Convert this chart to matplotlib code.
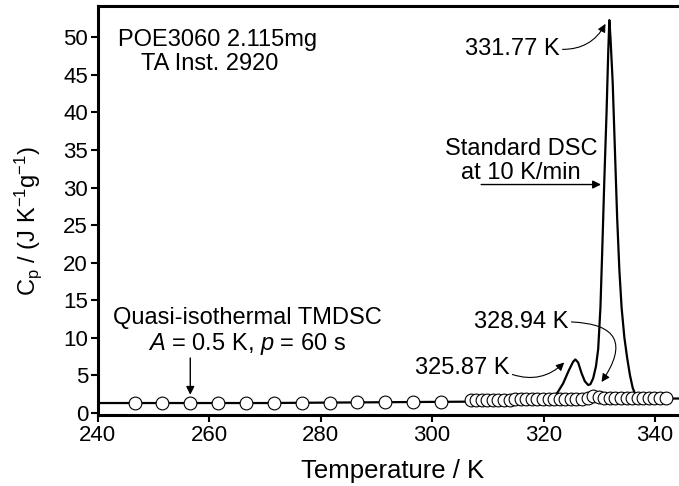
import matplotlib
matplotlib.use("Agg")
import matplotlib.pyplot as plt

plt.rcParams['font.family'] = ['Liberation Sans', 'DejaVu Sans']
plt.rcParams['mathtext.fontset'] = 'custom'
plt.rcParams['mathtext.rm'] = 'Liberation Sans'
plt.rcParams['mathtext.it'] = 'Liberation Sans:italic'

# Standard DSC at 10 K/min
dsc_T = [240, 270, 300, 310, 320, 321.5, 322.5, 323.5, 324.5, 325.3, 325.7, 326.2,
         326.8, 327.4, 328.0, 328.4, 328.9, 329.4, 329.8, 330.2, 330.5, 330.9,
         331.3, 331.6, 331.8, 332.0, 332.4, 332.8, 333.2, 333.6, 334.0, 334.5,
         335.0, 335.5, 336.0, 336.6, 337.5, 345.0]
dsc_cp = [1.3, 1.3, 1.45, 1.5, 1.6, 1.9, 2.7, 3.9, 5.6, 6.8, 7.1, 6.7,
          5.3, 4.2, 3.7, 3.8, 4.6, 6.2, 8.5, 14.0, 21.0, 31.0,
          40.0, 48.0, 52.3, 50.0, 44.0, 35.0, 26.0, 19.0, 14.0, 10.0,
          7.3, 5.0, 3.3, 2.2, 1.9, 1.9]

# Quasi-isothermal TMDSC points
tm_T = [246.6, 251.6, 256.6, 261.6, 266.6, 271.6, 276.6, 281.6, 286.6, 291.6,
        296.6, 301.6,
        306.9, 307.9, 308.9, 309.9, 310.9, 311.9, 312.9, 313.9, 314.9, 315.9,
        316.9, 317.9, 318.9, 319.9, 320.9, 321.9, 322.9, 323.9, 324.9, 325.9,
        326.9, 327.9, 328.9, 329.9, 330.9, 331.9, 332.9, 333.9, 334.9, 335.9,
        336.9, 337.9, 338.9, 339.9, 340.9, 341.9]
tm_cp = [1.3, 1.3, 1.3, 1.3, 1.3, 1.35, 1.35, 1.35, 1.4, 1.4,
         1.45, 1.5,
         1.65, 1.65, 1.7, 1.7, 1.7, 1.75, 1.75, 1.75, 1.8, 1.8,
         1.8, 1.8, 1.8, 1.85, 1.85, 1.85, 1.85, 1.85, 1.85, 1.9,
         1.9, 2.0, 2.3, 2.1, 2.0, 1.95, 1.95, 1.95, 1.95, 1.95,
         1.95, 1.95, 1.95, 1.95, 1.95, 1.95]

xticks = [240, 260, 280, 300, 320, 340]
yticks = [0, 5, 10, 15, 20, 25, 30, 35, 40, 45, 50]

fig = plt.figure(figsize=(6.79, 4.86), dpi=100)
ax = fig.add_axes([0.144, 0.146, 0.856, 0.842])

ax.plot(dsc_T, dsc_cp, color='black', lw=1.6, zorder=2)
ax.plot(tm_T, tm_cp, linestyle='none', marker='o', markersize=9.2,
        markerfacecolor='white', markeredgecolor='black', markeredgewidth=0.8, zorder=3)

ax.set_xlim(240, 344.3)
ax.set_ylim(-0.3, 54.2)
ax.set_xticks(xticks)
ax.set_yticks(yticks)
ax.tick_params(direction='out', length=5, width=1.5, labelsize=16, pad=2)
for s in ['left', 'bottom', 'top']:
    ax.spines[s].set_linewidth(2.2)
ax.spines['right'].set_visible(False)

ax.set_xlabel('Temperature / K', fontsize=18.5)
ax.xaxis.set_label_coords(0.508, -0.107)
ax.set_ylabel(r'C$_\mathrm{p}$ / (J K$^\mathrm{-1}$g$^\mathrm{-1}$)', fontsize=17)
ax.yaxis.set_label_coords(-0.092, 0.475)

fs = 17
arrow_kw = dict(color='black', lw=0.8, mutation_scale=12, shrinkA=0, shrinkB=0)

ax.text(261.5, 49.7, 'POE3060 2.115mg', fontsize=fs, ha='center', va='center')
ax.text(260.0, 46.4, 'TA Inst. 2920', fontsize=fs, ha='center', va='center')

ax.text(316.0, 33.5, 'Standard DSC\nat 10 K/min', fontsize=fs, ha='center', va='center',
        linespacing=1.12)
ax.annotate('', xy=(330.3, 30.4), xytext=(308.8, 30.4),
            arrowprops=dict(arrowstyle='-|>', **dict(arrow_kw, lw=1.0)))

ax.text(322.9, 48.4, '331.77 K', fontsize=fs, ha='right', va='center')
ax.annotate('', xy=(331.1, 51.8), xytext=(323.4, 48.4),
            arrowprops=dict(arrowstyle='-|>', connectionstyle='arc3,rad=0.3', **arrow_kw))

ax.text(324.5, 12.1, '328.94 K', fontsize=fs, ha='right', va='center')
ax.annotate('', xy=(330.4, 4.1), xytext=(325.0, 12.1),
            arrowprops=dict(arrowstyle='-|>', connectionstyle='arc3,rad=-0.9', **arrow_kw))

ax.text(313.8, 5.9, '325.87 K', fontsize=fs, ha='right', va='center')
ax.annotate('', xy=(323.7, 6.7), xytext=(314.4, 5.1),
            arrowprops=dict(arrowstyle='-|>', connectionstyle='arc3,rad=0.3', **arrow_kw))

ax.text(266.8, 10.8, 'Quasi-isothermal TMDSC\n' + r'$A$ = 0.5 K, $p$ = 60 s',
        fontsize=fs, ha='center', va='center', linespacing=1.1)
ax.annotate('', xy=(256.6, 2.4), xytext=(256.6, 7.3),
            arrowprops=dict(arrowstyle='-|>', **dict(arrow_kw, lw=1.0)))

fig.savefig('out.png', dpi=100)
